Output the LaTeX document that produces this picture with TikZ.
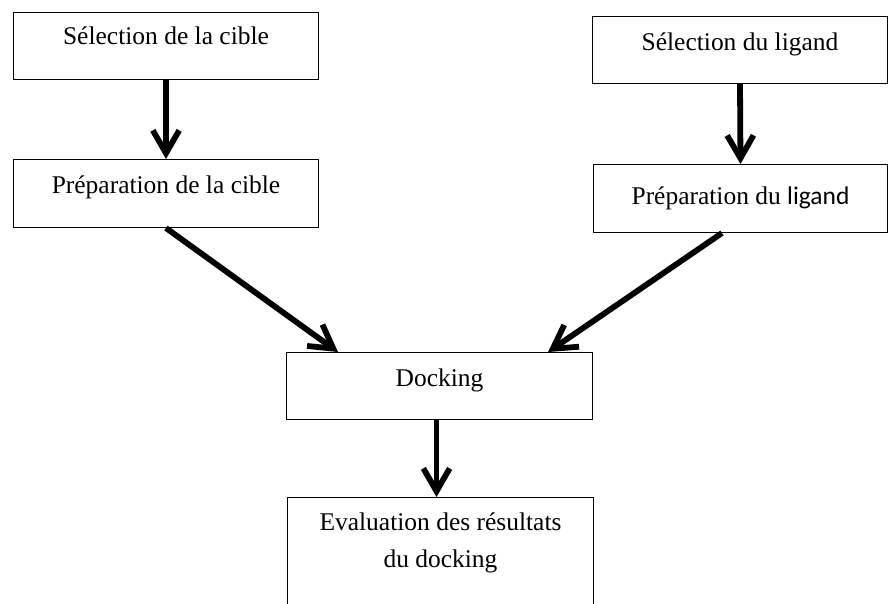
\documentclass[tikz,border=0pt]{standalone}
\usepackage{fontspec}
\setmainfont{Liberation Serif}
\newfontfamily\calibrifont{Carlito}
\usetikzlibrary{arrows.meta}
\tikzset{
  box/.style={draw, line width=0.6pt, anchor=north west, inner sep=0pt, align=center, font=\fontsize{14.5}{17}\selectfont},
  arrow/.style={-{Straight Barb[length=13pt, width=15pt, line width=3.3pt]}, line width=3.3pt},
}

\begin{document}
\begin{tikzpicture}[x=0.02cm, y=-0.02cm]
  \useasboundingbox (0,0) rectangle (888,603);
  \clip (0,0) rectangle (888,603);

  % Cible
  \node[box, minimum width=6.1cm, text height=0.64cm, text depth=0.70cm] (cib1) at (13,12) {Sélection de la cible};
  \node[box, minimum width=6.1cm, text height=0.68cm, text depth=0.68cm] (cib2) at (13,159) {Préparation de la cible};

  % Ligand
  \node[box, minimum width=5.9cm, text height=0.68cm, text depth=0.66cm] (lig1) at (592,16) {Sélection du ligand};
  \node[box, minimum width=5.88cm, text height=0.80cm, text depth=0.56cm] (lig2) at (593,164) {Préparation du {\calibrifont ligand}};

  % Docking et evaluation
  \node[box, minimum width=6.12cm, text height=0.68cm, text depth=0.66cm] (dock) at (286,352) {Docking};
  \node[box, minimum width=6.12cm, text height=0.66cm, text depth=2.2cm] (eval) at (287,497)
    {\parbox[t]{6cm}{\centering\setlength{\baselineskip}{21pt}Evaluation des résultats\\ du docking}};

  % Fleches
  \draw[arrow] (cib1.south) -- (cib2.north);
  \draw[arrow] (lig1.south) -- (lig2.north);
  \draw[arrow] (cib2.south) -- ([xshift=1.04cm]dock.north west);
  \draw[arrow] ([xshift=2.58cm]lig2.south west) -- ([xshift=-0.9cm]dock.north east);
  \draw[arrow] ([xshift=-0.06cm]dock.south) -- ([xshift=-0.06cm]dock.south |- eval.north);

\end{tikzpicture}
\end{document}
